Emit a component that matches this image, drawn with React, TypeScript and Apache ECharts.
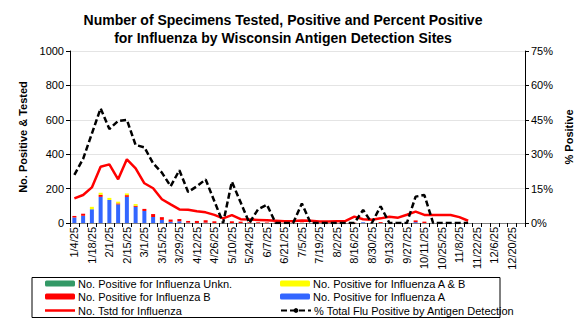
import React, { useEffect, useRef } from "react";
import * as echarts from "echarts";

const weeks = [
  "1/4/25", "1/11/25", "1/18/25", "1/25/25", "2/1/25", "2/8/25", "2/15/25", "2/22/25",
  "3/1/25", "3/8/25", "3/15/25", "3/22/25", "3/29/25", "4/5/25", "4/12/25", "4/19/25",
  "4/26/25", "5/3/25", "5/10/25", "5/17/25", "5/24/25", "5/31/25", "6/7/25", "6/14/25",
  "6/21/25", "6/28/25", "7/5/25", "7/12/25", "7/19/25", "7/26/25", "8/2/25", "8/9/25",
  "8/16/25", "8/23/25", "8/30/25", "9/6/25", "9/13/25", "9/20/25", "9/27/25", "10/4/25",
  "10/11/25", "10/18/25", "10/25/25", "11/1/25", "11/8/25", "11/15/25", "11/22/25", "11/29/25",
  "12/6/25", "12/13/25", "12/20/25", "12/27/25",
];

const posUnkn = [
  0, 0, 0, 0, 0, 0, 0, 0, 0, 0, 0, 0, 0, 0, 0, 0, 0, 0, 0, 0, 0, 0, 0,
  0, 0, 0, 0, 0, 0, 0, 0, 0, 0, 0, 0, 0, 0, 0, 0, 0, 0, 0, 0, 0, 0, 0,
];
const posAB = [
  0, 0, 14, 12, 12, 10, 10, 10, 0, 0, 0, 0, 0, 0, 0, 0, 0, 0, 0, 0, 0, 0, 0,
  0, 0, 0, 0, 0, 0, 0, 0, 0, 0, 0, 0, 0, 0, 0, 0, 0, 0, 0, 0, 0, 0, 0,
];
const posB = [
  9, 12, 0, 12, 0, 6, 10, 6, 12, 17, 16, 13, 13, 10, 12, 14, 10, 0, 10, 8, 4, 4, 3,
  2, 0, 2, 2, 0, 0, 0, 0, 0, 2, 0, 0, 5, 0, 0, 0, 10, 8, 0, 0, 0, 0, 0,
];
const posA = [
  32, 42, 80, 152, 134, 108, 152, 94, 70, 35, 18, 7, 10, 2, 0, 2, 0, 0, 0, 0, 0, 0, 0,
  0, 0, 0, 0, 0, 0, 0, 0, 0, 0, 4, 0, 0, 0, 0, 0, 5, 0, 0, 0, 0, 0, 0,
];
const tested = [
  143, 163, 207, 327, 341, 254, 370, 318, 231, 202, 138, 108, 79, 77, 68, 62, 47, 27, 46, 22, 20, 18, 16,
  13, 10, 12, 15, 13, 9, 8, 10, 12, 37, 22, 19, 27, 36, 31, 48, 66, 47, 46, 46, 46, 34, 13,
];
const pctPositive = [
  21, 28, 39, 50, 41, 44.5, 45, 34, 33, 26, 22, 16, 23, 13.5, 16, 19, 9.5, 0, 18, 9, 0, 6, 8,
  0, 0, 0, 8.5, 0, 0, 0, 0, 0, 0, 5.7, 0, 7.3, 0, 0, 0, 11.5, 12.2, 0, 0, 0, 0, 0,
];

const leftTicks = [0, 200, 400, 600, 800, 1000];
const rightTicks = [0, 15, 30, 45, 60, 75];

const FONT = "'Liberation Sans', Arial, Helvetica, sans-serif";

const names = {
  unkn: "No. Positive for Influenza Unkn.",
  ab: "No. Positive for Influenza A & B",
  b: "No. Positive for Influenza B",
  a: "No. Positive for Influenza A",
  tested: "No. Tstd for Influenza",
  pct: "% Total Flu Positive by Antigen Detection",
};

function legendAt(name: string, left: number, top: number, extra: any = {}) {
  return {
    data: [extra.icon ? { name, icon: extra.icon } : name],
    left,
    top,
    padding: 0,
    itemWidth: 30,
    itemHeight: extra.itemHeight ?? 6,
    itemGap: 0,
    selectedMode: false,
    textStyle: { fontSize: 11, color: "#000", fontFamily: FONT, padding: [0, 0, 0, -2] },
  };
}

export default function App() {
  const ref = useRef<HTMLDivElement>(null);
  useEffect(() => {
    if (!ref.current) return;
    const chart = echarts.init(ref.current, null, { renderer: "svg" });
    const barCommon = { type: "bar", stack: "pos", barWidth: 4, yAxisIndex: 0, xAxisIndex: 0 };
    chart.setOption({
      animation: false,
      backgroundColor: "#fff",
      textStyle: { fontFamily: FONT },
      title: {
        text: "Number of Specimens Tested, Positive and Percent Positive\nfor Influenza by Wisconsin Antigen Detection Sites",
        left: 278,
        top: 6,
        textAlign: "center",
        textStyle: { fontSize: 14, fontWeight: "bold", color: "#000", lineHeight: 18, fontFamily: FONT },
      },
      grid: { left: 70, right: 62, top: 51, bottom: 98, containLabel: false },
      legend: [
        legendAt(names.unkn, 45, 278),
        legendAt(names.ab, 280, 278),
        legendAt(names.b, 45, 291),
        legendAt(names.a, 280, 291),
        legendAt(names.tested, 45, 305, { icon: "rect", itemHeight: 2.5 }),
        legendAt(names.pct, 280, 305),
      ],
      graphic: [
        {
          type: "rect",
          shape: { x: 32, y: 277.5, width: 468, height: 40 },
          style: { fill: "none", stroke: "#000", lineWidth: 1 },
          silent: true,
        },
      ],
      xAxis: [
        {
          type: "category",
          data: weeks,
          boundaryGap: true,
          axisLine: { lineStyle: { color: "#000", width: 1 } },
          axisTick: { show: true, interval: 0, length: 4, lineStyle: { color: "#000" } },
          axisLabel: { interval: 1, rotate: 90, fontSize: 11, color: "#000", fontFamily: FONT, margin: 4 },
          splitLine: { show: false },
        },
        {
          type: "category",
          data: weeks,
          position: "top",
          axisLine: { lineStyle: { color: "#808080", width: 1 } },
          axisTick: { show: false },
          axisLabel: { show: false },
        },
      ],
      yAxis: [
        {
          type: "value",
          min: leftTicks[0],
          max: leftTicks[leftTicks.length - 1],
          interval: 200,
          name: "No. Positive & Tested",
          nameLocation: "middle",
          nameRotate: 90,
          nameGap: 37,
          nameTextStyle: { fontSize: 11, fontWeight: "bold", color: "#000", fontFamily: FONT },
          axisLine: { show: true, lineStyle: { color: "#000" } },
          axisTick: { show: true, length: 4, lineStyle: { color: "#000" } },
          axisLabel: { fontSize: 11, color: "#000", fontFamily: FONT, margin: 6, formatter: (v: number) => String(v) },
          splitLine: { show: true, lineStyle: { color: "#e4e4e4", width: 1 } },
        },
        {
          type: "value",
          min: rightTicks[0],
          max: rightTicks[rightTicks.length - 1],
          interval: 15,
          position: "right",
          name: "% Positive",
          nameLocation: "middle",
          nameRotate: 90,
          nameGap: 35,
          nameTextStyle: { fontSize: 11, fontWeight: "bold", color: "#000", fontFamily: FONT },
          axisLine: { show: true, lineStyle: { color: "#000" } },
          axisTick: { show: true, length: 4, lineStyle: { color: "#000" } },
          axisLabel: { fontSize: 11, color: "#000", fontFamily: FONT, margin: 6, formatter: "{value}%" },
          splitLine: { show: false },
        },
      ],
      series: [
        { ...barCommon, name: names.a, data: posA, itemStyle: { color: "#3366FF" } },
        { ...barCommon, name: names.b, data: posB, itemStyle: { color: "#FF0000" } },
        { ...barCommon, name: names.ab, data: posAB, itemStyle: { color: "#FFFF00" } },
        { ...barCommon, name: names.unkn, data: posUnkn, itemStyle: { color: "#339966" } },
        {
          type: "line",
          name: names.tested,
          data: tested,
          yAxisIndex: 0,
          symbol: "none",
          lineStyle: { color: "#FF0000", width: 2.5 },
          itemStyle: { color: "#FF0000" },
          z: 5,
        },
        {
          type: "line",
          name: names.pct,
          data: pctPositive,
          yAxisIndex: 1,
          symbol: "none",
          lineStyle: { color: "#000", width: 2.5, type: [6, 3] },
          itemStyle: { color: "#000" },
          z: 6,
        },
      ],
    });
    return () => chart.dispose();
  }, []);
  return <div ref={ref} style={{ width: 587, height: 321, position: "absolute", left: 0, top: 0 }} />;
}
